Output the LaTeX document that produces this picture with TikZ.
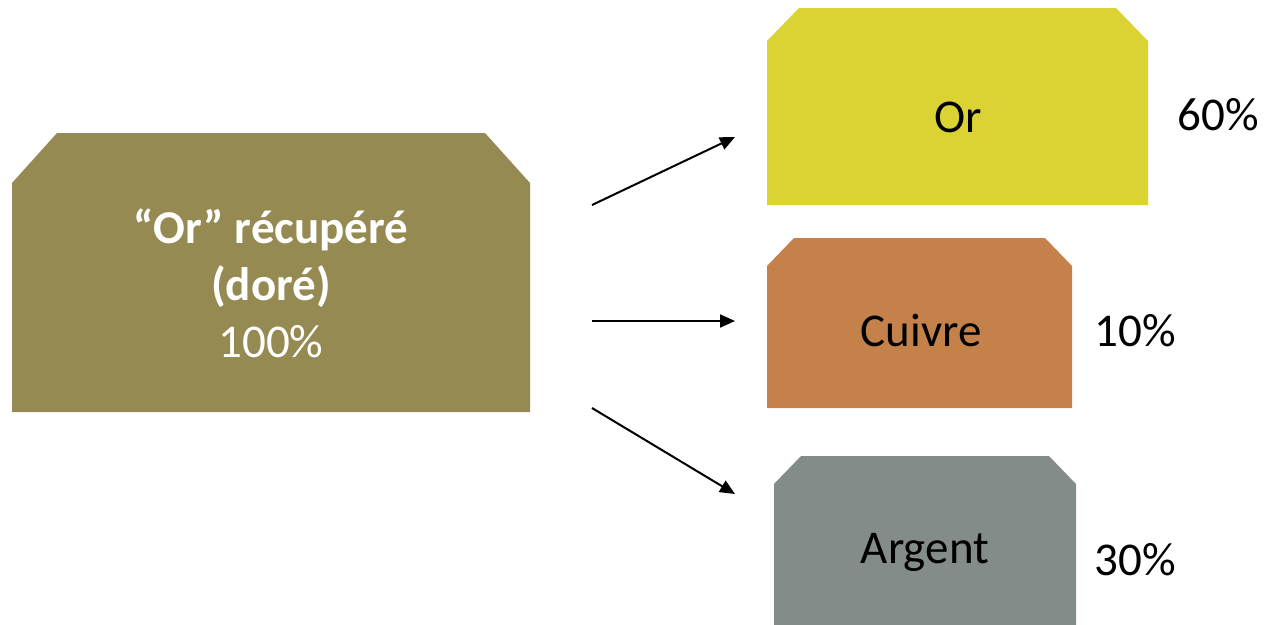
\documentclass[tikz,border=0pt]{standalone}
\usepackage{fontspec}
\setmainfont{Carlito}
\usetikzlibrary{calc,arrows.meta}

\definecolor{doreC}{HTML}{968A53}
\definecolor{orC}{HTML}{DBD233}
\definecolor{cuivreC}{HTML}{C4814A}
\definecolor{argentC}{HTML}{848C89}

% fill a node's box with its two upper corners cut off
\newcommand\chamferbox[4]{%
  \fill[#2] (#1.south west) -- ($(#1.north west)+(0,#4)$) -- ($(#1.north west)+(#3,0)$)
    -- ($(#1.north east)+(-#3,0)$) -- ($(#1.north east)+(0,#4)$) -- (#1.south east) -- cycle;}

\begin{document}
\begin{tikzpicture}[x=1pt,y=-1pt,
  slab/.style={inner sep=0pt, outer sep=0pt},
  lbl/.style={font=\fontsize{47}{57}\selectfont, text=black, inner sep=0pt, anchor=base},
  flow/.style={line width=2pt, -{Triangle[length=15pt,width=13pt]}}]
\useasboundingbox (0,0) rectangle (1266,624);
\clip (0,0) rectangle (1266,624);

% boxes
\node[slab, minimum width=518pt, minimum height=279pt] (main) at (271,272.5) {};
\node[slab, minimum width=381pt, minimum height=197pt] (or) at (957.5,106.5) {};
\node[slab, minimum width=305pt, minimum height=170pt] (cuivre) at (919.5,323) {};
\node[slab, minimum width=302pt, minimum height=204pt] (argent) at (925,558) {};

\chamferbox{main}{doreC}{45}{50}
\chamferbox{or}{orC}{32}{33}
\chamferbox{cuivre}{cuivreC}{27}{28}
\chamferbox{argent}{argentC}{27}{28}

% texts
\node[font=\fontsize{47}{57}\selectfont, text=white, align=center, inner sep=0pt]
  (mainlbl) at (271,283) {\textbf{“Or” récupéré}\\\textbf{(doré)}\\100\%};
\node[lbl] (orlbl) at (958,132) {Or};
\node[lbl] (orpct) at (1218,130) {60\%};
\node[lbl] (cuivrelbl) at (921,346) {Cuivre};
\node[lbl] (cuivrepct) at (1135,346) {10\%};
\node[lbl] (argentlbl) at (925,563) {Argent};
\node[lbl] (argentpct) at (1135,575) {30\%};

% connectors
\coordinate (s1) at (592,205);
\coordinate (e1) at (735,137);
\coordinate (s2) at (592,321);
\coordinate (e2) at (735,321);
\coordinate (s3) at (592,408);
\coordinate (e3) at (735,494);
\draw[flow] (s1) -- (e1);
\draw[flow] (s2) -- (e2);
\draw[flow] (s3) -- (e3);
\end{tikzpicture}
\end{document}
